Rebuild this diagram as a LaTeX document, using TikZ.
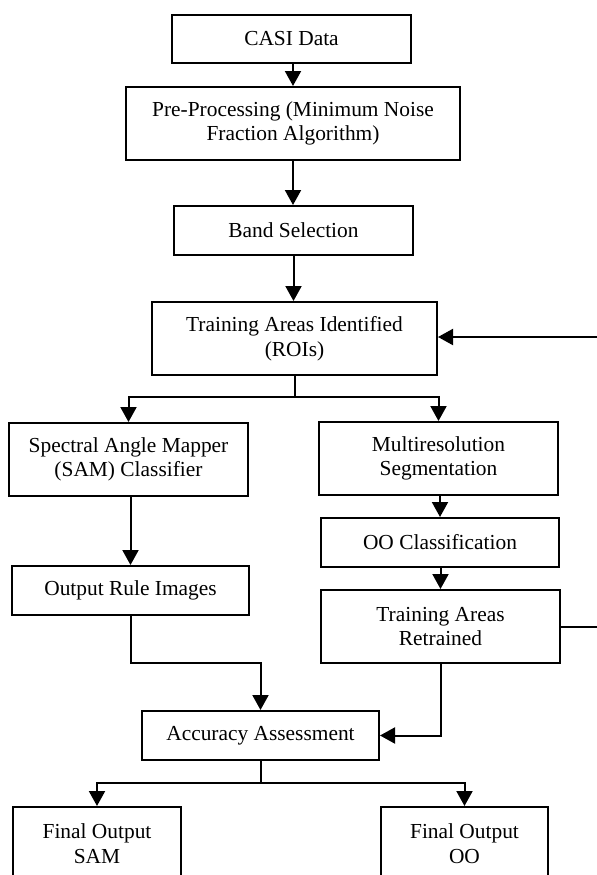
\documentclass[tikz,border=0pt]{standalone}
\usepackage{fontspec}
\setmainfont{Liberation Serif}
\usetikzlibrary{arrows.meta}

\tikzset{
  box/.style={draw=black, line width=1pt, fill=white, inner sep=0pt,
    align=center, font=\fontsize{10.7pt}{12.3pt}\selectfont},
  arr/.style={draw=black, line width=1pt, -{Triangle[length=7.5pt,width=8pt]}},
  link/.style={draw=black, line width=1pt},
}
% boxes are given as centre, width and height in units of the grid
\newcommand{\flowbox}[6]{%
  \node[box, minimum width=#4*0.5pt, minimum height=#5*0.5pt] (#1) at (#2,#3) {#6};}

\begin{document}
\begin{tikzpicture}[x=0.5pt, y=-0.5pt]
  \useasboundingbox (0,0) rectangle (597,875);
  \fill[white] (0,0) rectangle (597,875);
  \clip (0,0) rectangle (597,875);

  \flowbox{casi}{291.5}{39}{239}{48}{CASI Data}
  \flowbox{pre}{293}{123.5}{334}{73}{Pre-Processing (Minimum Noise\\Fraction Algorithm)}
  \flowbox{band}{293.5}{230.5}{239}{49}{Band Selection}
  \flowbox{roi}{294.5}{338.5}{285}{73}{Training Areas Identified\\(ROIs)}
  \flowbox{sam}{128.5}{459.5}{239}{73}{Spectral Angle Mapper\\(SAM) Classifier}
  \flowbox{mrs}{438.5}{458.5}{239}{73}{Multiresolution\\Segmentation}
  \flowbox{ooc}{440}{542.5}{238}{49}{OO Classification}
  \flowbox{rule}{130.5}{590.5}{237}{49}{Output Rule Images}
  \flowbox{retr}{440.5}{626.5}{239}{73}{Training Areas\\Retrained}
  \flowbox{acc}{260.5}{735.5}{237}{49}{Accuracy Assessment}
  \flowbox{fsam}{97}{843.5}{168}{73}{Final Output\\SAM}
  \flowbox{foo}{464.5}{843.5}{167}{73}{Final Output\\OO}

  % junction points of the branching connectors
  \coordinate (split) at (294.5,397);
  \coordinate (merge) at (260.5,783);
  \coordinate (ruleturn) at (130.5,663);
  \coordinate (loop) at (602,626.5);

  % main chain
  \draw[arr] (casi.south -| pre.north) -- (pre.north);
  \draw[arr] (pre.south) -- (band.north -| pre.south);
  \draw[arr] (band.south) -- (roi.north -| band.south);

  % split into the two classification branches
  \draw[link] (roi.south) -- (split);
  \draw[arr] (split) -| (sam.north);
  \draw[arr] (split) -| (mrs.north);

  % SAM branch
  \draw[arr] (sam.south -| rule.north) -- (rule.north);
  \draw[arr] (rule.south) -- (ruleturn) -| (acc.north);

  % object-oriented branch
  \draw[arr] (mrs.south -| ooc.north) -- (ooc.north);
  \draw[arr] (ooc.south -| retr.north) -- (retr.north);
  \draw[arr] (retr.south) |- (acc.east);

  % retraining loop back to the training areas
  \draw[arr] (retr.east) -- (loop) |- ([yshift=0.75pt]roi.east);

  % final outputs
  \draw[link] (acc.south) -- (merge);
  \draw[arr] (merge) -| (fsam.north);
  \draw[arr] (merge) -| (foo.north);
\end{tikzpicture}
\end{document}
